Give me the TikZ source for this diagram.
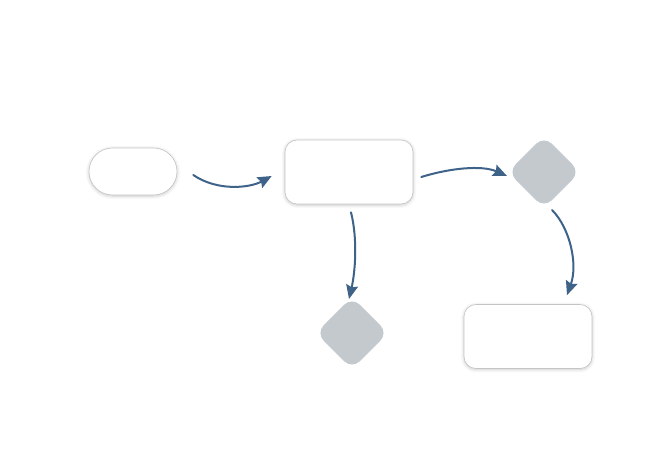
\documentclass[tikz,border=0pt]{standalone}
\usetikzlibrary{arrows.meta,shadows.blur,calc}
\definecolor{arrowblue}{HTML}{3F6289}
\definecolor{diagray}{HTML}{C4C9CE}
\definecolor{boxline}{HTML}{C4C4C4}
\tikzset{
  pill/.style={draw=boxline, fill=white, line width=0.6pt, rounded corners=23.5pt, minimum width=88pt, minimum height=47pt, inner sep=0pt, blur shadow={shadow blur steps=6, shadow xshift=0pt, shadow yshift=-1pt, shadow opacity=22, shadow blur radius=3.5pt}},
  boxnode/.style={draw=boxline, fill=white, line width=0.6pt, rounded corners=12pt, minimum width=128pt, minimum height=64pt, inner sep=0pt, blur shadow={shadow blur steps=6, shadow xshift=0pt, shadow yshift=-1pt, shadow opacity=22, shadow blur radius=3.5pt}},
  decision/.style={fill=diagray, draw=none, rounded corners=11pt, rotate=45, minimum width=51pt, minimum height=51pt, inner sep=0pt},
  conn/.style={draw=arrowblue, line width=2pt, line cap=round, -{Stealth[length=14pt,width=12pt,inset=2pt]}}
}
\begin{document}
\begin{tikzpicture}[x=1pt,y=-1pt]
\useasboundingbox (0,0) rectangle (670,470);
\node[pill] (start) at (133,171.5) {};
\node[boxnode] (taskA) at (349,172) {};
\node[decision] (dec1) at (544,172) {};
\node[decision] (dec2) at (352,333) {};
\node[boxnode] (taskB) at (528,336.5) {};
\draw[conn] ($(start.east)+(16,3.5)$) .. controls ($(start.east)+(40,20)$) and ($(taskA.west)+(-35,16)$) .. ($(taskA.west)+(-13,4)$);
\draw[conn] ($(taskA.east)+(8,5)$) .. controls ($(taskA.east)+(37,-4)$) and ($(dec1)+(-62,-7)$) .. ($(dec1)+(-37,4)$);
\draw[conn] ($(taskA.south)+(2,8)$) .. controls ($(taskA.south)+(9,36)$) and ($(dec2)+(3,-60)$) .. ($(dec2)+(-3,-34)$);
\draw[conn] ($(dec1)+(8,38)$) .. controls ($(dec1)+(26,56)$) and ($(taskB.north)+(50,-40)$) .. ($(taskB.north)+(39,-9)$);
\end{tikzpicture}
\end{document}
